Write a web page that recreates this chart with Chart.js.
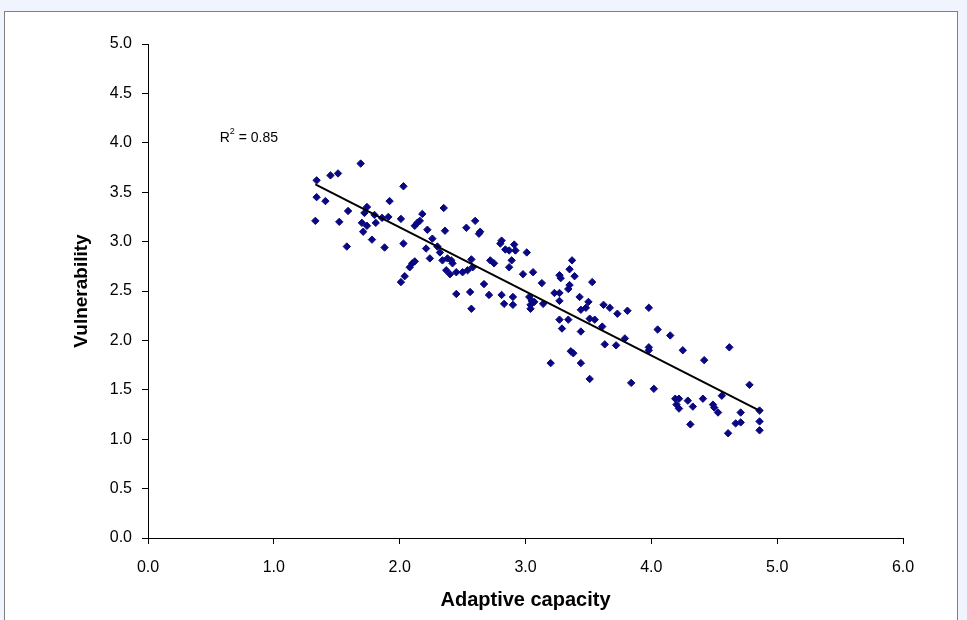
<!DOCTYPE html>
<html>
<head>
<meta charset="utf-8">
<script src="https://cdn.jsdelivr.net/npm/chart.js@4.4.1/dist/chart.umd.min.js"></script>
<style>
    body { margin: 0; background: #f0f5fd; width: 967px; height: 620px; overflow: hidden; }
    .frame { position: absolute; left: 4px; top: 11px; width: 952px; height: 620px; background: #fff; border: 1px solid #808080; }
    .frame canvas { position: absolute; left: 0; top: 0; }
</style>
</head>
<body>
<div class="frame">
    <canvas id="myScatter" width="952" height="608"></canvas>
</div>
<script>
// values
const adaptiveCapacity = [
    1.34, 1.34, 1.33, 1.41, 1.45, 1.51, 1.69, 1.52, 1.59, 1.58, 1.74, 1.72, 1.70, 1.74, 1.71, 1.78, 1.80,
    1.81, 1.86, 1.91, 1.88, 1.92, 2.03, 2.01, 2.03, 2.12, 2.14, 2.16, 2.18, 2.22, 2.26, 2.21, 2.24, 2.30,
    2.32, 2.35, 2.36, 2.34, 2.38, 2.41, 2.42, 2.37, 2.40, 2.45, 2.10, 2.12, 2.08, 2.04, 2.01, 2.45, 2.50,
    2.53, 2.60, 2.63, 2.64, 2.80, 2.81, 2.84, 2.87, 2.91, 2.92, 3.01, 2.89, 2.87, 2.72, 2.75, 2.57, 2.54,
    2.58, 2.67, 2.56, 2.71, 2.81, 2.90, 2.98, 3.06, 3.13, 3.03, 3.37, 3.35, 3.39, 3.27, 3.28, 3.35, 3.34,
    3.53, 3.23, 3.27, 3.43,
    2.57, 2.83, 2.90, 3.04, 3.05, 3.07, 3.14, 3.04, 3.27, 3.27, 3.34, 3.29, 3.44, 3.48, 3.50, 3.44, 3.51,
    3.55, 3.62, 3.67, 3.73, 3.61, 3.63, 3.72, 3.79, 3.36, 3.38, 3.20, 3.44, 3.51,
    3.81, 3.98, 4.05, 4.15, 3.98, 3.98, 4.25, 4.42, 4.62, 3.84, 4.02, 4.19, 4.22, 4.29, 4.20, 4.22, 4.33,
    4.41, 4.56, 4.49, 4.50, 4.53, 4.31, 4.61, 4.67, 4.71, 4.71, 4.78, 4.86, 4.86, 4.86
];
const vulnerability = [
    3.62, 3.45, 3.21, 3.41, 3.67, 3.69, 3.79, 3.20, 3.31, 2.95, 3.35, 3.29, 3.19, 3.16, 3.10, 3.02, 3.27,
    3.19, 3.24, 3.25, 2.94, 3.41, 3.56, 3.23, 2.98, 3.16, 3.19, 3.21, 3.28, 3.12, 3.03, 2.93, 2.83, 2.95,
    2.89, 3.34, 3.11, 2.81, 2.83, 2.81, 2.78, 2.71, 2.67, 2.69, 2.78, 2.80, 2.74, 2.65, 2.59, 2.47, 2.69,
    3.14, 3.21, 3.08, 3.10, 2.98, 3.01, 2.92, 2.91, 2.97, 2.91, 2.89, 2.81, 2.74, 2.81, 2.78, 2.82, 2.71,
    2.74, 2.57, 2.49, 2.46, 2.46, 2.44, 2.67, 2.69, 2.58, 2.44, 2.81, 2.72, 2.65, 2.66, 2.63, 2.56, 2.52,
    2.59, 2.48, 2.48, 2.44,
    2.32, 2.37, 2.36, 2.36, 2.40, 2.39, 2.37, 2.32, 2.40, 2.21, 2.21, 2.12, 2.31, 2.33, 2.39, 2.09, 2.22,
    2.21, 2.36, 2.33, 2.27, 2.14, 1.96, 1.95, 2.02, 1.89, 1.87, 1.77, 1.77, 1.61,
    2.30, 2.33, 2.11, 2.05, 1.93, 1.90, 1.90, 1.80, 1.93, 1.57, 1.51, 1.41, 1.41, 1.39, 1.35, 1.31, 1.33,
    1.41, 1.44, 1.35, 1.32, 1.27, 1.15, 1.06, 1.16, 1.27, 1.17, 1.55, 1.29, 1.18, 1.09
];
// trend line ends
const trendX = [1.33, 4.86];
const trendY = [3.58, 1.29];
const rSquared = '0.85';
const rLabelAt = [0.57, 4.05];
const xTicks = [0, 1, 2, 3, 4, 5, 6];
const yTicks = [0, 0.5, 1, 1.5, 2, 2.5, 3, 3.5, 4, 4.5, 5];

const FONT = '"Liberation Sans", Arial, sans-serif';

// R^2 text placed in data units
const rSquaredLabel = {
    id: 'rSquaredLabel',
    afterDatasetsDraw(chart) {
        const ctx = chart.ctx;
        const px = chart.scales.x.getPixelForValue(rLabelAt[0]);
        const py = chart.scales.y.getPixelForValue(rLabelAt[1]);
        ctx.save();
        ctx.fillStyle = '#000';
        ctx.textBaseline = 'middle';
        ctx.textAlign = 'left';
        ctx.font = '14px ' + FONT;
        ctx.fillText('R', px, py);
        let w = ctx.measureText('R').width;
        ctx.font = '9px ' + FONT;
        ctx.fillText('2', px + w, py - 6);
        w += ctx.measureText('2').width;
        ctx.font = '14px ' + FONT;
        ctx.fillText(' = ' + rSquared, px + w, py);
        ctx.restore();
    }
};

const points = adaptiveCapacity.map((v, i) => ({ x: v, y: vulnerability[i] }));
const trend = trendX.map((v, i) => ({ x: v, y: trendY[i] }));

const ctx = document.getElementById('myScatter');
const myScatter = new Chart(ctx, {
    type: 'scatter',
    data: {
        datasets: [{
            label: 'Vulnerability',
            data: points,
            pointStyle: 'rectRot',
            pointRadius: 3.7,
            backgroundColor: '#0a0880',
            borderColor: '#0a0880',
            borderWidth: 1,
            order: 2
        }, {
            type: 'line',
            label: 'Linear',
            data: trend,
            borderColor: '#000',
            borderWidth: 2,
            pointRadius: 0,
            fill: false,
            order: 1
        }]
    },
    options: {
        responsive: false,
        animation: false,
        events: [],
        layout: { padding: { left: 62, top: 32, right: 54, bottom: 4 } },
        plugins: { legend: { display: false }, tooltip: { enabled: false } },
        scales: {
            x: {
                type: 'linear',
                min: 0,
                max: 6,
                afterBuildTicks: (scale) => { scale.ticks = xTicks.map(v => ({ value: v })); },
                afterFit: (scale) => { scale.height = 78; },
                border: { display: true, color: '#000', width: 1 },
                grid: { drawOnChartArea: false, drawTicks: true, tickLength: 6, color: '#000' },
                ticks: {
                    color: '#000',
                    padding: 14,
                    font: { family: FONT, size: 16 },
                    callback: (v) => Number(v).toFixed(1)
                },
                title: {
                    display: true,
                    text: 'Adaptive capacity',
                    color: '#000',
                    padding: { top: 10 },
                    font: { family: FONT, size: 20, weight: 'bold' }
                }
            },
            y: {
                type: 'linear',
                min: 0,
                max: 5,
                afterBuildTicks: (scale) => { scale.ticks = yTicks.map(v => ({ value: v })); },
                afterFit: (scale) => { scale.width = 81; },
                border: { display: true, color: '#000', width: 1 },
                grid: { drawOnChartArea: false, drawTicks: true, tickLength: 6, color: '#000' },
                ticks: {
                    color: '#000',
                    padding: 10,
                    font: { family: FONT, size: 16 },
                    callback: (v) => Number(v).toFixed(1)
                },
                title: {
                    display: true,
                    text: 'Vulnerability',
                    color: '#000',
                    padding: { top: 3, bottom: 0 },
                    font: { family: FONT, size: 19, weight: 'bold' }
                }
            }
        }
    },
    plugins: [rSquaredLabel]
});
</script>
</body>
</html>
